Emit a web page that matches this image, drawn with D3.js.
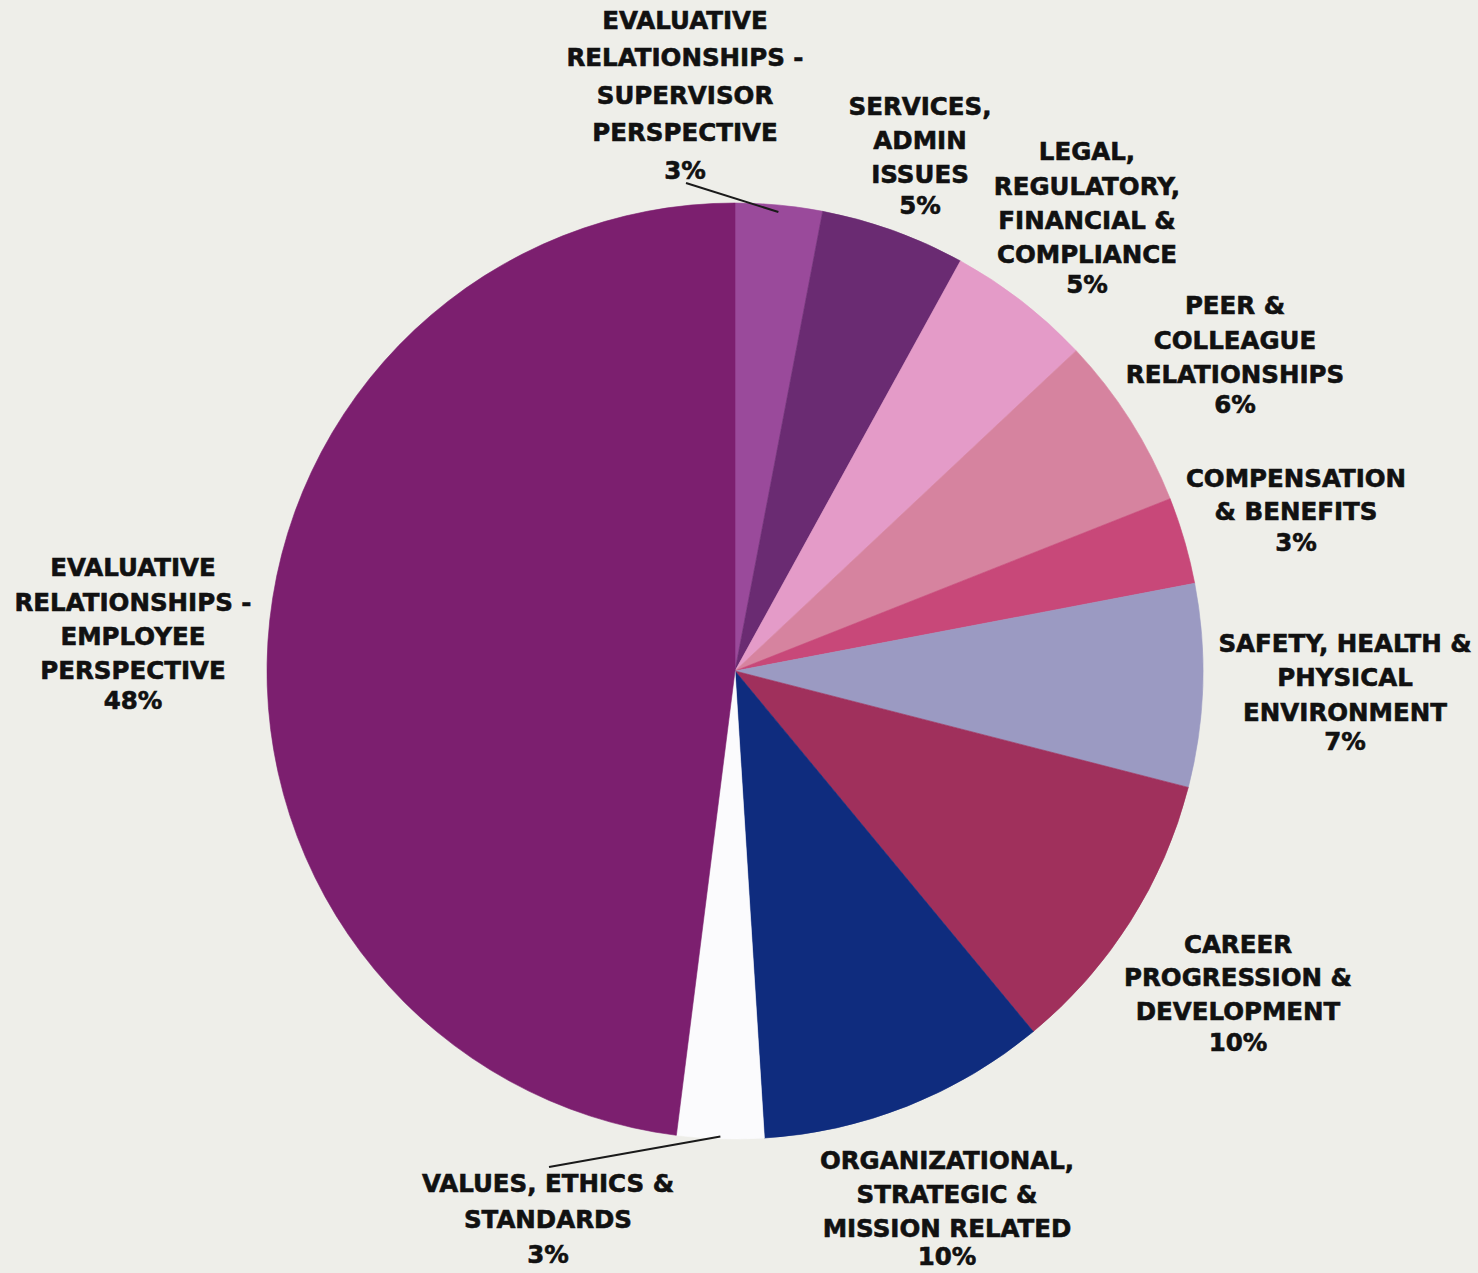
<!DOCTYPE html>
<html>
<head>
<meta charset="utf-8">
<script src="https://cdn.jsdelivr.net/npm/d3@7"></script>
<style>
  html, body { margin: 0; padding: 0; background: #eeeee9; }
  svg { display: block; }
  .lbl { font-family: "DejaVu Sans", "Lato", sans-serif; font-weight: bold; fill: #111; stroke: #111; stroke-width: 0.6px; }
</style>
</head>
<body>
<svg id="chart" width="1478" height="1273"></svg>
<script>
// Issue categories, clockwise from 12 o'clock
const categories = [
  "EVALUATIVE RELATIONSHIPS - SUPERVISOR PERSPECTIVE",
  "SERVICES, ADMIN ISSUES",
  "LEGAL, REGULATORY, FINANCIAL & COMPLIANCE",
  "PEER & COLLEAGUE RELATIONSHIPS",
  "COMPENSATION & BENEFITS",
  "SAFETY, HEALTH & PHYSICAL ENVIRONMENT",
  "CAREER PROGRESSION & DEVELOPMENT",
  "ORGANIZATIONAL, STRATEGIC & MISSION RELATED",
  "VALUES, ETHICS & STANDARDS",
  "EVALUATIVE RELATIONSHIPS - EMPLOYEE PERSPECTIVE"
];
// Share of cases, percent
const shares = [3, 5, 5, 6, 3, 7, 10, 10, 3, 48];

// Label text broken into lines (last line is the percentage)
const labelLines = [
  ["EVALUATIVE", "RELATIONSHIPS -", "SUPERVISOR", "PERSPECTIVE"],
  ["SERVICES,", "ADMIN", "ISSUES"],
  ["LEGAL,", "REGULATORY,", "FINANCIAL &", "COMPLIANCE"],
  ["PEER &", "COLLEAGUE", "RELATIONSHIPS"],
  ["COMPENSATION", "& BENEFITS"],
  ["SAFETY, HEALTH &", "PHYSICAL", "ENVIRONMENT"],
  ["CAREER", "PROGRESSION &", "DEVELOPMENT"],
  ["ORGANIZATIONAL,", "STRATEGIC &", "MISSION RELATED"],
  ["VALUES, ETHICS &", "STANDARDS"],
  ["EVALUATIVE", "RELATIONSHIPS -", "EMPLOYEE", "PERSPECTIVE"]
];

const colors = ["#9a4a9b", "#6a2b72", "#e49bc8", "#d6839f", "#c84879",
                "#9b9ac2", "#a0305c", "#0f2c7e", "#fbfbfd", "#7c1f6f"];

// Layout: label block centre x and the y of each text line
const labelPos = [
  { x: 685, ys: [20, 57, 95, 132, 170] },
  { x: 920, ys: [106, 140, 174, 205] },
  { x: 1087, ys: [151, 186, 220, 254, 284] },
  { x: 1235, ys: [305, 340, 374, 404] },
  { x: 1296, ys: [478, 511, 542] },
  { x: 1345, ys: [643, 677, 712, 741] },
  { x: 1238, ys: [944, 977, 1011, 1042] },
  { x: 947, ys: [1160, 1194, 1228, 1256] },
  { x: 548, ys: [1183, 1219, 1254] },
  { x: 133, ys: [567, 602, 636, 670, 700] }
];
// Slices that get a leader line: [slice index, line start (near label)]
const leaders = [
  { i: 0, from: [686, 183], rk: 0.985 },
  { i: 8, from: [549, 1167], rk: 0.995 }
];

const cx = 735, cy = 671, R = 468;
const svg = d3.select("#chart");

const data = categories.map((c, i) => ({ name: c, value: shares[i], i }));
const pie = d3.pie().value(d => d.value).sort(null);
const arcs = pie(data);
const arc = d3.arc().innerRadius(0).outerRadius(R);
const color = d3.scaleOrdinal().domain(categories).range(colors);

const g = svg.append("g").attr("transform", `translate(${cx},${cy})`);
g.selectAll("path.slice")
  .data(arcs)
  .join("path")
  .attr("class", "slice")
  .attr("d", arc)
  .attr("fill", d => color(d.data.name))
  .attr("stroke", d => color(d.data.name))
  .attr("stroke-width", 0.6);

// Leader lines to the thin slices
leaders.forEach(l => {
  const a = arcs[l.i];
  const mid = (a.startAngle + a.endAngle) / 2;
  const ex = cx + Math.sin(mid) * R * l.rk;
  const ey = cy - Math.cos(mid) * R * l.rk;
  svg.append("line")
    .attr("x1", l.from[0]).attr("y1", l.from[1])
    .attr("x2", ex).attr("y2", ey)
    .attr("stroke", "#1a1a1a").attr("stroke-width", 2);
});

// Category labels
data.forEach((d, i) => {
  const lines = labelLines[i].concat([d.value + "%"]);
  const pos = labelPos[i];
  const t = svg.append("text")
    .attr("class", "lbl")
    .attr("text-anchor", "middle")
    .attr("font-size", 24.5);
  lines.forEach((ln, k) => {
    t.append("tspan")
      .attr("x", pos.x)
      .attr("y", pos.ys[k])
      .attr("dy", "0.36em")
      .text(ln);
  });
});
</script>
</body>
</html>
